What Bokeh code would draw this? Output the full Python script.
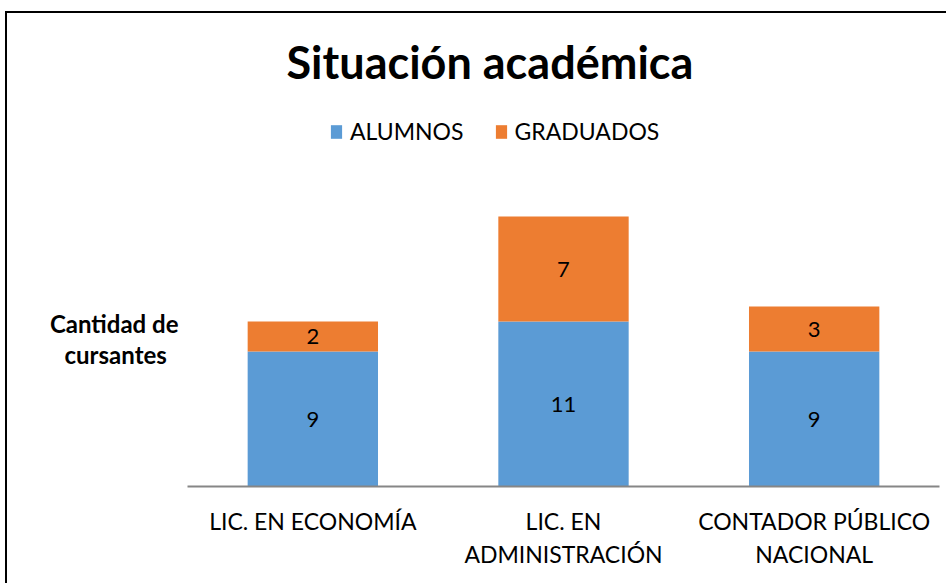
from bokeh.plotting import figure
from bokeh.models import ColumnDataSource, Legend, LegendItem, LabelSet, Title, FactorRange, FixedTicker
from bokeh.embed import file_html
from bokeh.resources import INLINE
from bokeh.core.properties import value

categories = ["LIC. EN ECONOMÍA", "LIC. EN\nADMINISTRACIÓN", "CONTADOR PÚBLICO\nNACIONAL"]
alumnos = [9, 11, 9]
graduados = [2, 7, 3]
series = ["ALUMNOS", "GRADUADOS"]
colors = ["#5B9BD5", "#ED7D31"]
y_max = 26

FONT = "Lato"

src = ColumnDataSource(dict(
    cat=categories,
    ALUMNOS=alumnos,
    GRADUADOS=graduados,
    a_mid=[a / 2 for a in alumnos],
    g_mid=[a + g / 2 for a, g in zip(alumnos, graduados)],
    a_txt=[str(a) for a in alumnos],
    g_txt=[str(g) for g in graduados],
))

p = figure(x_range=FactorRange(*categories), y_range=(0, y_max), width=941, height=572,
           output_backend="svg", toolbar_location=None,
           min_border_left=180, min_border_right=9, min_border_top=83, min_border_bottom=99)
p.margin = (11, 0, 0, 5)

p.title = Title(text="Situación académica", align="left", offset=99, standoff=16,
                text_font=FONT, text_font_size="45px", text_font_style="bold",
                text_color="#000000")

r = p.vbar_stack(series, x="cat", width=0.52, source=src, color=colors, line_color=None)

p.add_layout(LabelSet(x="cat", y="a_mid", text="a_txt", source=src, text_align="center",
                      text_baseline="middle", text_font=value(FONT), text_font_size="22px",
                      text_color="#000000"))
p.add_layout(LabelSet(x="cat", y="g_mid", text="g_txt", source=src, text_align="center",
                      text_baseline="middle", text_font=value(FONT), text_font_size="22px",
                      text_color="#000000"))

legend = Legend(items=[LegendItem(label=s, renderers=[rr]) for s, rr in zip(series, r)],
                orientation="horizontal", location=(142, 341),
                label_text_font=FONT, label_text_font_size="23px", label_text_color="#000000",
                glyph_width=14, glyph_height=17, spacing=30, label_standoff=7,
                border_line_color=None, background_fill_alpha=0, margin=0, padding=0)
p.add_layout(legend, "center")

p.xgrid.grid_line_color = None
p.ygrid.grid_line_color = None
p.outline_line_color = None

p.xaxis.major_label_text_font = FONT
p.xaxis.major_label_text_font_size = "23px"
p.xaxis.major_label_text_color = "#000000"
p.xaxis.major_tick_line_color = None
p.xaxis.minor_tick_line_color = None
p.xaxis.axis_line_color = "#868686"
p.xaxis.axis_line_width = 2
p.xaxis.major_label_standoff = 14

p.yaxis.ticker = FixedTicker(ticks=[])
p.yaxis.axis_label = "\n\n\nCantidad de\ncursantes\u00a0\u00a0"
p.yaxis.axis_label_orientation = "horizontal"
p.yaxis.axis_label_text_font = FONT
p.yaxis.axis_label_text_font_size = "24px"
p.yaxis.axis_label_text_font_style = "bold"
p.yaxis.axis_label_text_color = "#000000"
p.yaxis.axis_label_text_line_height = 1.09
p.yaxis.major_tick_line_color = None
p.yaxis.minor_tick_line_color = None
p.yaxis.axis_line_color = None
p.yaxis.axis_label_standoff = 9

p.styles = {"border-top": "2px solid black", "border-left": "2px solid black"}

open("out.html", "w").write(file_html(p, INLINE))
